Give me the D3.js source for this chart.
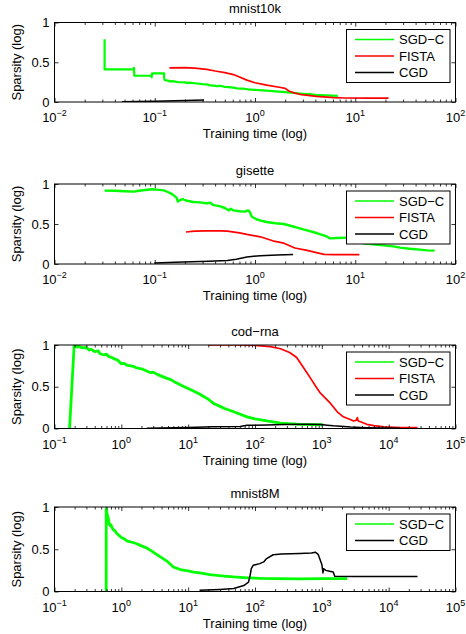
<!DOCTYPE html>
<html>
<head>
<meta charset="utf-8">
<script src="https://cdn.jsdelivr.net/npm/d3@7"></script>
<style>
  body { margin: 0; background: #fff; }
  text { font-family: "Liberation Sans", Arial, Helvetica, sans-serif; fill: #000; }
</style>
</head>
<body>
<svg id="chart" width="466" height="634"></svg>
<script>
// ---- data: [training time (s), sparsity] ----
const mnist10kSgdc = [[0.0316,0.79],[0.0316,0.41],[0.062,0.41],[0.062,0.43],[0.0625,0.33],[0.093,0.33],[0.093,0.31],[0.094,0.36],[0.124,0.36],[0.124,0.30],[0.126,0.275],[0.135,0.27],[0.14,0.26],[0.15,0.262],[0.17,0.25],[0.2,0.247],[0.21,0.238],[0.22,0.244],[0.25,0.236],[0.3,0.224],[0.33,0.222],[0.35,0.212],[0.42,0.2],[0.45,0.204],[0.5,0.19],[0.55,0.186],[0.61,0.18],[0.66,0.172],[0.75,0.168],[0.85,0.16],[1.0,0.152],[1.3,0.142],[1.6,0.134],[2.0,0.125],[2.5,0.113],[3.0,0.104],[3.5,0.098],[4.0,0.09],[5.0,0.083],[6.7,0.076]];
const mnist10kFista = [[0.14,0.43],[0.2,0.432],[0.25,0.425],[0.33,0.41],[0.4,0.39],[0.5,0.37],[0.61,0.345],[0.7,0.315],[0.83,0.275],[1.0,0.242],[1.31,0.212],[1.8,0.182],[2.0,0.172],[2.2,0.135],[2.5,0.112],[2.8,0.097],[4.1,0.07],[6.1,0.056],[8.0,0.05],[13,0.049],[21.5,0.048]];
const mnist10kCgd = [[0.047,0.004],[0.1,0.01],[0.2,0.018],[0.31,0.026]];

const gisetteSgdc = [[0.0316,0.917],[0.04,0.915],[0.05,0.91],[0.062,0.905],[0.07,0.915],[0.08,0.925],[0.094,0.935],[0.105,0.93],[0.123,0.92],[0.135,0.9],[0.15,0.87],[0.165,0.83],[0.17,0.78],[0.18,0.8],[0.19,0.81],[0.21,0.79],[0.243,0.775],[0.28,0.77],[0.33,0.76],[0.36,0.765],[0.38,0.74],[0.45,0.72],[0.5,0.7],[0.53,0.68],[0.55,0.67],[0.57,0.69],[0.61,0.67],[0.7,0.66],[0.8,0.655],[0.85,0.67],[0.88,0.66],[0.93,0.59],[1.05,0.555],[1.3,0.525],[1.6,0.51],[1.94,0.5],[2.3,0.475],[2.8,0.445],[3.3,0.42],[3.8,0.4],[4.5,0.37],[5.2,0.345],[5.6,0.32],[6.6,0.325],[8.3,0.33],[10,0.29],[12,0.26],[15,0.245],[19,0.233],[24,0.22],[28,0.205],[35,0.19],[44,0.18],[52,0.17],[62,0.167]];
const gisetteFista = [[0.205,0.40],[0.25,0.41],[0.33,0.415],[0.45,0.415],[0.53,0.41],[0.7,0.39],[0.83,0.37],[1.13,0.34],[1.5,0.29],[1.94,0.26],[2.5,0.2],[3.3,0.17],[4.2,0.14],[4.9,0.12],[6.1,0.118],[11,0.118]];
const gisetteCgd = [[0.099,0.013],[0.19,0.025],[0.35,0.035],[0.53,0.045],[0.65,0.06],[0.83,0.088],[1.13,0.104],[1.66,0.112],[2.4,0.12]];

const codrnaSgdc = [[0.168,0],[0.197,1.0],[0.22,0.975],[0.23,0.99],[0.24,0.975],[0.27,0.965],[0.3,0.97],[0.33,0.94],[0.35,0.95],[0.4,0.92],[0.45,0.93],[0.48,0.895],[0.55,0.88],[0.6,0.89],[0.65,0.86],[0.7,0.855],[0.8,0.83],[0.86,0.825],[1.0,0.775],[1.1,0.78],[1.2,0.76],[1.5,0.745],[1.7,0.725],[2.0,0.715],[2.7,0.67],[3.0,0.675],[3.5,0.645],[4.8,0.6],[5.5,0.585],[6.5,0.55],[8,0.515],[10,0.48],[12,0.45],[15,0.41],[20,0.35],[24,0.3],[30,0.265],[35,0.24],[48,0.2],[60,0.17],[76,0.14],[100,0.115],[150,0.09],[240,0.065],[480,0.05],[1040,0.045]];
const codrnaFista = [[20,1],[50,1],[100,0.995],[170,0.98],[240,0.955],[330,0.91],[420,0.85],[530,0.73],[680,0.6],[850,0.48],[960,0.42],[1350,0.3],[1700,0.2],[2100,0.14],[2600,0.11],[3000,0.09],[3300,0.1],[3400,0.13],[3500,0.09],[3800,0.08],[4700,0.05],[6000,0.035],[8500,0.02],[15000,0.012],[27000,0.01]];
const codrnaCgd = [[2.4,0.003],[10,0.012],[24,0.02],[60,0.025],[76,0.038],[150,0.042],[270,0.048],[600,0.05],[960,0.048],[1200,0.04],[1500,0.032],[2700,0.018],[4700,0.01],[8000,0.006],[15000,0.004]];

const mnist8mSgdc = [[0.594,0],[0.594,0.98],[0.6,0.96],[0.62,0.9],[0.64,0.86],[0.66,0.8],[0.68,0.78],[0.7,0.79],[0.72,0.76],[0.76,0.73],[0.8,0.72],[0.85,0.69],[1.0,0.64],[1.1,0.625],[1.2,0.6],[1.5,0.58],[1.7,0.565],[2,0.54],[2.4,0.515],[2.7,0.49],[3.5,0.43],[4.8,0.36],[6,0.29],[7.6,0.26],[10,0.245],[12,0.23],[15,0.22],[21,0.2],[27,0.19],[38,0.18],[48,0.172],[68,0.165],[100,0.158],[118,0.155],[200,0.152],[465,0.15],[1000,0.152],[2400,0.152]];
const mnist8mCgd = [[14.8,0.015],[30,0.025],[48,0.035],[68,0.07],[80,0.11],[85,0.2],[88,0.27],[94,0.31],[118,0.33],[135,0.35],[149,0.39],[187,0.435],[250,0.445],[465,0.45],[700,0.455],[800,0.465],[880,0.44],[940,0.38],[1000,0.32],[1040,0.22],[1060,0.27],[1150,0.25],[1300,0.24],[1480,0.23],[1560,0.18],[3000,0.177],[27000,0.177]];

// ---- panel definitions ----
const titles = ["mnist10k", "gisette", "cod\u2212rna", "mnist8M"];
const xDecades = [[-2, 2], [-2, 2], [-1, 5], [-1, 5]];
const yTicks = [0, 0.5, 1];
const yTickLabels = ["0", "0.5", "1"];
const panelSeries = [
  [["SGD\u2212C", mnist10kSgdc], ["FISTA", mnist10kFista], ["CGD", mnist10kCgd]],
  [["SGD\u2212C", gisetteSgdc], ["FISTA", gisetteFista], ["CGD", gisetteCgd]],
  [["SGD\u2212C", codrnaSgdc], ["FISTA", codrnaFista], ["CGD", codrnaCgd]],
  [["SGD\u2212C", mnist8mSgdc], ["CGD", mnist8mCgd]]
];

// ---- styling / layout ----
const colors = { "SGD\u2212C": "#00ff00", "FISTA": "#ff0000", "CGD": "#000000" };
const widths = { "SGD\u2212C": 2.2, "FISTA": 1.7, "CGD": 1.5 };
const noisyWidth = [2.2, 2.4, 2.8, 2.8];
const axLeft = 54.5, axRight = 455.5;
const boxes = [[22.5, 102], [184, 264], [345, 428.5], [507, 591.5]];
const FS = 13;

const svg = d3.select("#chart");
svg.append("rect").attr("width", 466).attr("height", 634).attr("fill", "#fff");

panelSeries.forEach((series, i) => {
  const [top, bottom] = boxes[i];
  const [d0, d1] = xDecades[i];
  const x = d3.scaleLog().domain([Math.pow(10, d0), Math.pow(10, d1)]).range([axLeft, axRight]);
  const y = d3.scaleLinear().domain([0, 1]).range([bottom, top]);
  const g = svg.append("g");

  const majors = d3.range(d0, d1 + 1).map(e => Math.pow(10, e));
  const minors = [];
  d3.range(d0, d1).forEach(e => { for (let m = 2; m <= 9; m++) minors.push(m * Math.pow(10, e)); });

  // clip region
  const clipId = "clip" + i;
  svg.append("clipPath").attr("id", clipId)
    .append("rect").attr("x", axLeft).attr("y", top).attr("width", axRight - axLeft).attr("height", bottom - top);

  // data lines
  const line = d3.line().x(d => x(d[0])).y(d => y(d[1]));
  const plot = g.append("g").attr("clip-path", `url(#${clipId})`);
  series.forEach(([name, pts]) => {
    plot.append("path").datum(pts)
      .attr("d", line)
      .attr("fill", "none")
      .attr("stroke", colors[name])
      .attr("stroke-width", name === "SGD\u2212C" ? noisyWidth[i] : widths[name])
      .attr("stroke-linejoin", "round");
  });

  // ticks (inward) on all four sides
  const tickGroup = (axisFn, values, size, transform) => {
    const a = g.append("g").attr("transform", transform)
      .call(axisFn.tickValues(values).tickSize(size).tickFormat(""));
    a.select(".domain").remove();
    a.selectAll("line").attr("stroke", "#000").attr("stroke-width", 0.8);
  };
  tickGroup(d3.axisBottom(x), majors, -4, `translate(0,${bottom})`);
  tickGroup(d3.axisBottom(x), minors, -2.5, `translate(0,${bottom})`);
  tickGroup(d3.axisTop(x), majors, -4, `translate(0,${top})`);
  tickGroup(d3.axisTop(x), minors, -2.5, `translate(0,${top})`);
  tickGroup(d3.axisLeft(y), yTicks, -4, `translate(${axLeft},0)`);
  tickGroup(d3.axisRight(y), yTicks, -4, `translate(${axRight},0)`);

  // axes box
  g.append("rect").attr("x", axLeft).attr("y", top)
    .attr("width", axRight - axLeft).attr("height", bottom - top)
    .attr("fill", "none").attr("stroke", "#000").attr("stroke-width", 1);

  // x tick labels 10^k
  d3.range(d0, d1 + 1).forEach(e => {
    const t = g.append("text").attr("x", x(Math.pow(10, e))).attr("y", bottom + 20)
      .attr("text-anchor", "middle").attr("font-size", FS);
    t.append("tspan").text("10");
    t.append("tspan").attr("font-size", 9).attr("dy", -6)
      .text(e < 0 ? "\u2212" + (-e) : String(e));
  });

  // y tick labels
  yTicks.forEach((v, k) => {
    g.append("text").attr("x", axLeft - 5).attr("y", y(v) + 4.6)
      .attr("text-anchor", "end").attr("font-size", FS).text(yTickLabels[k]);
  });

  // title, axis labels
  g.append("text").attr("x", (axLeft + axRight) / 2).attr("y", top - 9.5)
    .attr("text-anchor", "middle").attr("font-size", FS).text(titles[i]);
  g.append("text").attr("x", (axLeft + axRight) / 2).attr("y", bottom + 36)
    .attr("text-anchor", "middle").attr("font-size", FS).text("Training time (log)");
  g.append("text").attr("transform", `translate(21,${(top + bottom) / 2}) rotate(-90)`)
    .attr("text-anchor", "middle").attr("font-size", FS).text("Sparsity (log)");

  // legend
  const n = series.length, sp = 16.5;
  const lg = g.append("g");
  const lTop = top + 7;
  lg.append("rect").attr("x", 346.5).attr("y", lTop).attr("width", 103.5)
    .attr("height", 20 + sp * (n - 1))
    .attr("fill", "#fff").attr("stroke", "#000").attr("stroke-width", 1);
  series.forEach(([name], k) => {
    const ry = lTop + 10 + k * sp;
    lg.append("line").attr("x1", 355).attr("x2", 394).attr("y1", ry).attr("y2", ry)
      .attr("stroke", colors[name]).attr("stroke-width", 1.7);
    lg.append("text").attr("x", 399).attr("y", ry + 4.6).attr("font-size", FS).text(name);
  });
});
</script>
</body>
</html>
